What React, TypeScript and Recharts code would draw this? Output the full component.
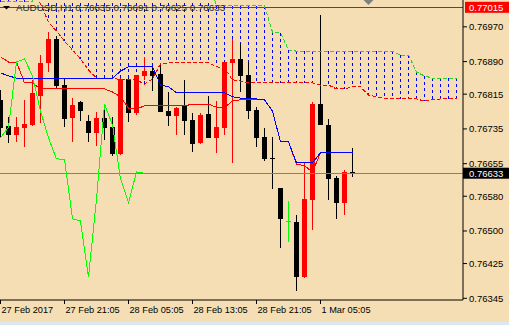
import React from "react"
import { ComposedChart, Bar, Line, XAxis, YAxis, ReferenceLine, ReferenceDot } from "recharts"

// AUDUSD H1 candles, one per hour (index 0 = left edge of the window)
const opens = [
  0.76802, 0.76742, 0.76721, 0.76737, 0.76744, 0.76811, 0.76887, 0.76942, 0.76836, 0.7676,
  0.76797, 0.76753, 0.76726, 0.7676, 0.76739, 0.76677, 0.7685, 0.76772, 0.76857, 0.76868,
  0.76862, 0.76776, 0.76765, 0.76788, 0.76756, 0.76703, 0.76769, 0.76714, 0.76737, 0.76887,
  0.76896, 0.76859, 0.76779, 0.76716, 0.76667, 0.76599, 0.76523, 0.76521, 0.76394, 0.76571,
  0.76792, 0.76744, 0.76622, 0.76565, 0.76635,
]
const highs = [
  0.76825, 0.76763, 0.76763, 0.76802, 0.76848, 0.76905, 0.76958, 0.76949, 0.7685, 0.76806,
  0.76799, 0.76767, 0.76774, 0.76779, 0.76763, 0.76852, 0.76852, 0.76859, 0.76901, 0.76875,
  0.76882, 0.7682, 0.76785, 0.76848, 0.76772, 0.76772, 0.76811, 0.76799, 0.76889, 0.76942,
  0.76933, 0.76889, 0.76785, 0.76737, 0.76716, 0.76599, 0.76569, 0.76537, 0.76659, 0.76797,
  0.76997, 0.76758, 0.76627, 0.7664, 0.76691,
]
const lows = [
  0.76716, 0.76703, 0.76705, 0.76693, 0.76742, 0.76749, 0.76866, 0.76827, 0.76739, 0.76705,
  0.76753, 0.76705, 0.76696, 0.7671, 0.76673, 0.76675, 0.76751, 0.76767, 0.76848, 0.76822,
  0.76774, 0.76742, 0.76721, 0.76721, 0.76682, 0.767, 0.76714, 0.7668, 0.76721, 0.76657,
  0.7682, 0.76758, 0.76693, 0.76661, 0.76597, 0.76461, 0.76475, 0.76362, 0.76392, 0.76502,
  0.76744, 0.76571, 0.76528, 0.76537, 0.76625,
]
const closes = [
  0.76737, 0.76721, 0.76739, 0.76746, 0.76818, 0.76887, 0.76942, 0.76834, 0.76758, 0.7679,
  0.76776, 0.76726, 0.7676, 0.76737, 0.76677, 0.7685, 0.76772, 0.76859, 0.76868, 0.76857,
  0.76774, 0.76765, 0.76783, 0.76753, 0.767, 0.76767, 0.76714, 0.76739, 0.76889, 0.76896,
  0.76857, 0.76776, 0.76714, 0.76666, 0.76665, 0.76528, 0.76523, 0.76394, 0.76574, 0.76792,
  0.76744, 0.7662, 0.76565, 0.76636, 0.76633,
]

// Ichimoku lines
const tenkan = [
  0.76901, 0.76889, 0.76889, 0.76841, 0.76841, 0.76827, 0.76827, 0.76827, 0.76827, 0.76827,
  0.76827, 0.76827, 0.76827, 0.76827, 0.7682, 0.76809, 0.76783, 0.76781, 0.76788, 0.76788,
  0.76788, 0.76788, 0.76788, 0.76788, 0.76792, 0.76792, 0.76792, 0.76785, 0.76785, 0.76799,
  0.76802, 0.76802, 0.76802, 0.76802, 0.76776, 0.76705, 0.76705, 0.76654, 0.7665, 0.76636,
  0.7668, 0.7668, 0.7668, 0.7668, 0.7668,
]
const kijun = [
  0.76864, 0.76857, 0.76852, 0.76852, 0.76852, 0.76852, 0.76852, 0.76852, 0.76852, 0.76852,
  0.76852, 0.76852, 0.76852, 0.76852, 0.76852, 0.76868, 0.76878, 0.76878, 0.76878, 0.76878,
  0.76836, 0.76832, 0.76818, 0.76818, 0.76818, 0.76818, 0.76818, 0.76818, 0.76818, 0.76809,
  0.76806, 0.76806, 0.76804, 0.76802, 0.76776, 0.76705, 0.76705, 0.76657, 0.76657, 0.76657,
  0.7668, 0.7668, 0.7668, 0.7668, 0.7668,
]
const chikou = [
  0.76714, 0.76739, 0.76889, 0.76896, 0.76857, 0.76776, 0.76714, 0.76666, 0.76665, 0.76528,
  0.76523, 0.76394, 0.76574, 0.76792, 0.76744, 0.7662, 0.76565, 0.76636, 0.76633,
]
const spanA = [
  0.7706, 0.7706, 0.7706, 0.7706, 0.7706, 0.77023, 0.76981, 0.7696, 0.76937, 0.76917,
  0.76896, 0.76871, 0.76852, 0.76852, 0.76852, 0.76848, 0.76848, 0.76848, 0.76838, 0.7685,
  0.76885, 0.76887, 0.76887, 0.76887, 0.76889, 0.76889, 0.76887, 0.76878, 0.76875, 0.76848,
  0.76845, 0.76841, 0.76841, 0.76841, 0.76841, 0.76841, 0.76841, 0.76841, 0.76841, 0.76841,
  0.76836, 0.76836, 0.76827, 0.76827, 0.76832, 0.76832, 0.76813, 0.76809, 0.76806, 0.76804,
  0.76804, 0.76804, 0.76804, 0.76799, 0.76802, 0.76804, 0.76804, 0.76804,
]
const spanB = [
  0.77028, 0.77028, 0.77028, 0.77028, 0.77028, 0.7708, 0.7708, 0.7708, 0.7708, 0.7708,
  0.7708, 0.7708, 0.7708, 0.7708, 0.7708, 0.7708, 0.7708, 0.7708, 0.7708, 0.7708,
  0.7708, 0.7708, 0.7708, 0.7708, 0.7708, 0.7708, 0.7708, 0.77018, 0.77018, 0.77018,
  0.77018, 0.77018, 0.77018, 0.77018, 0.76958, 0.76956, 0.76917, 0.76914, 0.76914, 0.76914,
  0.76914, 0.76914, 0.76914, 0.76914, 0.76914, 0.76914, 0.76914, 0.76914, 0.76914, 0.76914,
  0.76905, 0.76905, 0.76866, 0.76857, 0.76852, 0.76852, 0.76852, 0.76852,
]

const timeTicks = [0, 8, 16, 24, 32, 40]
const timeLabels = ["27 Feb 2017", "27 Feb 21:05", "28 Feb 05:05", "28 Feb 13:05", "28 Feb 21:05", "1 Mar 05:05"]
const priceTicks = [0.76345, 0.76425, 0.765, 0.7658, 0.76655, 0.76735, 0.76815, 0.7689, 0.7697]
const dayHigh = 0.77015
const shiftMarker = 46

const FONT = "'Liberation Sans', Arial, sans-serif"
const W = 509
const H = 325
const Y_DOMAIN: [number, number] = [0.763411, 0.770318]
const X_DOMAIN: [number, number] = [-0.0625, 57.8125]

const last = closes.length - 1
const title = `AUDUSD,H1 ${opens[last].toFixed(5)} ${highs[last].toFixed(5)} ${lows[last].toFixed(5)} ${closes[last].toFixed(5)}`

const rows = spanA.map((a, i) => {
  const b = spanB[i]
  const has = i < closes.length
  return {
    i,
    o: has ? opens[i] : null,
    h: has ? highs[i] : null,
    l: has ? lows[i] : null,
    c: has ? closes[i] : null,
    range: has ? [lows[i], highs[i]] : null,
    tenkan: i < tenkan.length ? tenkan[i] : null,
    kijun: i < kijun.length ? kijun[i] : null,
    chikou: i < chikou.length ? chikou[i] : null,
    spanA: a,
    spanB: b,
    cloud: [Math.min(a, b), Math.max(a, b)],
  }
})

function Candle(props: any) {
  const { x, y, width, height, payload } = props
  if (!payload || payload.o == null) return null
  const { o, h, l, c } = payload
  const cx = Math.floor(x + width / 2) + 0.5
  const k = h > l ? height / (h - l) : 0
  const top = y + (h - Math.max(o, c)) * k
  const bot = y + (h - Math.min(o, c)) * k
  const color = c > o ? "#ff0000" : c < o ? "#000000" : "#00ff00"
  return (
    <g shapeRendering="crispEdges">
      <line x1={cx} x2={cx} y1={y} y2={y + height} stroke={color} strokeWidth={1} />
      <rect x={cx - 2.5} y={top} width={5} height={Math.max(1, bot - top)} fill={color} />
    </g>
  )
}

function CloudStroke(props: any) {
  const { x, y, width, height } = props
  if (height == null || isNaN(y)) return null
  const cx = Math.floor(x + width / 2) + 0.5
  return <line x1={cx} x2={cx} y1={y} y2={y + height} stroke="#0000ff" strokeWidth={1} strokeDasharray="3 3" shapeRendering="crispEdges" />
}

function PriceTag(props: any) {
  const { viewBox, text, bg, dx } = props
  if (!viewBox) return null
  const right = viewBox.x + viewBox.width
  const cy = viewBox.y
  return (
    <g>
      <rect x={right + dx} y={cy - 5.5} width={W - right - dx} height={11} fill={bg} />
      <text x={right + 6} y={cy} dy="0.36em" fill="#ffffff" fontSize={9.5} fontFamily={FONT}>{text}</text>
    </g>
  )
}

function TimeTick(props: any) {
  const { x, y, payload } = props
  const idx = timeTicks.indexOf(payload.value)
  return (
    <text x={x + 1} y={y} dy="0.71em" fontSize={9.2} fill="#000" fontFamily={FONT} textAnchor="start">
      {idx >= 0 ? timeLabels[idx] : ""}
    </text>
  )
}

export default function App() {
  return (
    <div style={{ position: "absolute", left: 0, top: 0, width: W, height: H, background: "#f5deb3", overflow: "hidden" }}>
      <ComposedChart width={W} height={H} data={rows} margin={{ top: 0, right: 0, bottom: 0, left: 0 }}>
        <XAxis
          type="number"
          dataKey="i"
          domain={X_DOMAIN}
          allowDataOverflow
          ticks={timeTicks}
          interval={0}
          height={25}
          tickSize={4}
          tickMargin={2}
          axisLine={{ stroke: "#000" }}
          tickLine={{ stroke: "#000" }}
          tick={<TimeTick />}
        />
        <XAxis xAxisId="cloud" type="number" dataKey="i" domain={X_DOMAIN} allowDataOverflow hide />
        <YAxis
          orientation="right"
          type="number"
          domain={Y_DOMAIN}
          allowDataOverflow
          ticks={priceTicks}
          interval={0}
          width={46}
          tickSize={4}
          tickMargin={2}
          axisLine={{ stroke: "#000" }}
          tickLine={{ stroke: "#000" }}
          tickFormatter={(v: number) => v.toFixed(5)}
          tick={{ fontSize: 9.5, fill: "#000", fontFamily: FONT }}
        />
        <Bar xAxisId="cloud" dataKey="cloud" barSize={5} shape={<CloudStroke />} isAnimationActive={false} />
        <ReferenceLine y={dayHigh} stroke="#ff0000" shapeRendering="crispEdges" label={<PriceTag text={dayHigh.toFixed(5)} bg="#ff0000" dx={2} />} />
        <ReferenceLine y={closes[last]} stroke="#808080" shapeRendering="crispEdges" label={<PriceTag text={closes[last].toFixed(5)} bg="#000000" dx={0} />} />
        <Line dataKey="spanA" stroke="#ff0000" strokeDasharray="4 2" dot={false} activeDot={false} isAnimationActive={false} type="linear" shapeRendering="crispEdges" />
        <Line dataKey="spanB" stroke="#32cd32" strokeDasharray="4 2" dot={false} activeDot={false} isAnimationActive={false} type="linear" shapeRendering="crispEdges" />
        <Line dataKey="tenkan" stroke="#ff0000" dot={false} activeDot={false} isAnimationActive={false} type="linear" shapeRendering="crispEdges" />
        <Line dataKey="kijun" stroke="#0000ff" dot={false} activeDot={false} isAnimationActive={false} type="linear" shapeRendering="crispEdges" />
        <Line dataKey="chikou" stroke="#00ff00" dot={false} activeDot={false} isAnimationActive={false} type="linear" shapeRendering="crispEdges" />
        <Bar dataKey="range" barSize={5} shape={<Candle />} isAnimationActive={false} />
        <ReferenceDot
          x={shiftMarker}
          y={Y_DOMAIN[1]}
          ifOverflow="visible"
          shape={(p: any) => <polygon points={`${p.cx - 5},${p.cy} ${p.cx + 5},${p.cy} ${p.cx},${p.cy + 5}`} fill="#808080" />}
        />
      </ComposedChart>
      <svg width={W} height={H} style={{ position: "absolute", left: 0, top: 0, pointerEvents: "none" }}>
        <polygon points="3,6 10,6 6.5,9.5" fill="#000" />
        <text x={16} y={11} fontSize={9.8} fill="#2b2b2b" fontFamily={FONT}>{title}</text>
        <rect x={0} y={322} width={W} height={3} fill="#dde7f2" />
      </svg>
    </div>
  )
}
